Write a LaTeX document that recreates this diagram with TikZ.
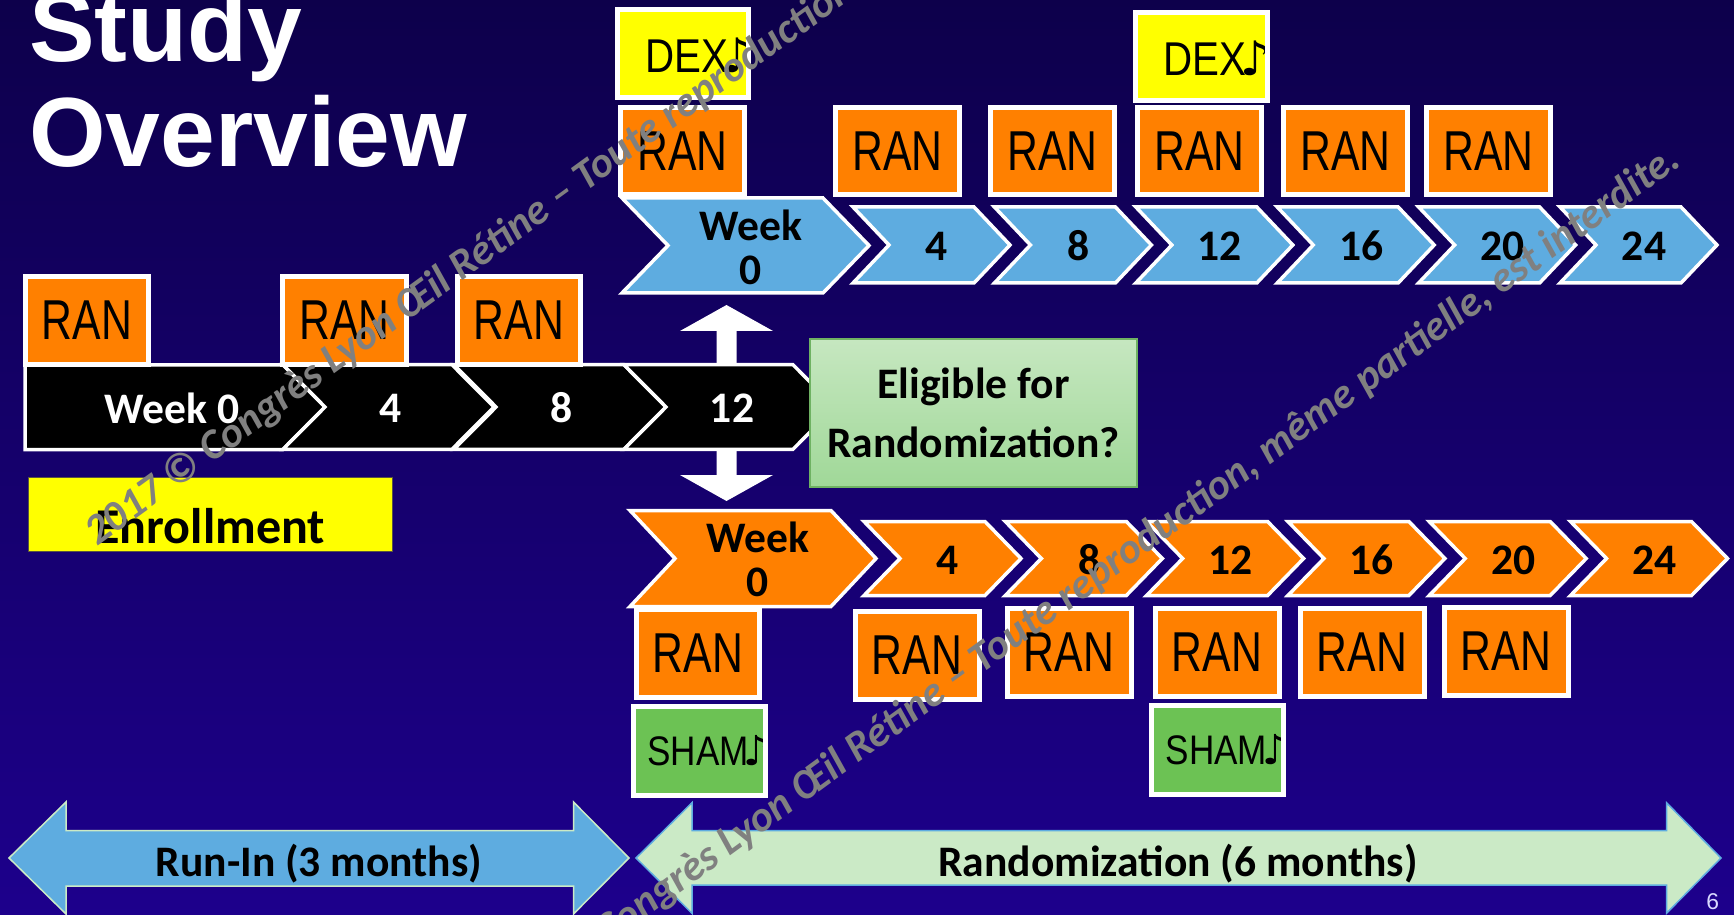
\documentclass[tikz,border=0pt]{standalone}
\usepackage{fontspec}
\setmainfont{Liberation Sans}
\newfontfamily\lblfont{Carlito}
\newfontfamily\notefont{DejaVu Sans}

\definecolor{bgtop}{HTML}{0D004B}
\definecolor{bgmid}{HTML}{110058}
\definecolor{bgbot}{HTML}{1D008C}
\definecolor{ranorange}{HTML}{FF8000}
\definecolor{chevblue}{HTML}{5EACE0}
\definecolor{dexyellow}{HTML}{FFFF00}
\definecolor{shamgreen}{HTML}{6CC254}
\definecolor{eligtop}{HTML}{C6E7C0}
\definecolor{eligbot}{HTML}{A0D898}
\definecolor{eligedge}{HTML}{6FB263}
\definecolor{randfill}{HTML}{CBEAC6}
\definecolor{wmgray}{HTML}{808080}

% chevron: style, left x, middle y, length, height, point depth
\newcommand{\chevronshape}[6]{\filldraw[#1] (#2,#3) ++(0,-#5/2) -- ++(#4-#6,0) -- ++(#6,#5/2) -- ++(-#6,#5/2) -- ++(#6-#4,0) -- ++(#6,-#5/2) -- cycle;}
\newcommand{\rantext}{\scalebox{0.76}[1]{RAN}}
\newcommand{\dextext}{\scalebox{0.85}[1]{DEX}\kern-0.12em{\notefont ♪}}
\newcommand{\shamtext}{\scalebox{0.85}[1]{SHAM}\kern-0.12em{\notefont ♪}}

\tikzset{
	titletext/.style={anchor=base west, inner sep=0pt, text=white, font=\bfseries\fontsize{56}{60}\selectfont},
	lbl/.style={align=center, inner sep=0pt, font=\lblfont\bfseries\fontsize{24.8}{25}\selectfont},
	runlbl/.style={lbl, text=white},
	blackchev/.style={fill=black, draw=white, line width=0.07cm},
	bluechev/.style={fill=chevblue, draw=white, line width=0.07cm},
	orangechev/.style={fill=ranorange, draw=white, line width=0.07cm},
	ranbox/.style={fill=ranorange, draw=white, line width=0.1cm, minimum width=2.48cm, minimum height=1.76cm, inner sep=0pt, font=\fontsize{32}{32}\selectfont},
	dexbox/.style={fill=dexyellow, draw=white, line width=0.1cm, minimum width=2.64cm, minimum height=1.76cm, inner sep=0pt,
		path picture={\node[anchor=west, inner sep=0pt, font=\fontsize{27}{27}\selectfont] at ([xshift=0.27cm, yshift=-0.04cm]path picture bounding box.west) {\dextext};}},
	shambox/.style={fill=shamgreen, draw=white, line width=0.1cm, minimum width=2.64cm, minimum height=1.78cm, inner sep=0pt,
		path picture={\node[anchor=west, inner sep=0pt, font=\fontsize{23.5}{24}\selectfont] at ([xshift=0.14cm]path picture bounding box.west) {\shamtext};}},
	watermark/.style={anchor=base west, rotate=36, inner sep=0pt, text=wmgray, font=\lblfont\bfseries\itshape\fontsize{24.2}{25}\selectfont}
}

\begin{document}
\begin{tikzpicture}[x=0.02cm, y=-0.02cm]

	% Background
	\useasboundingbox (0,0) rectangle (1734,915);
	\clip (0,0) rectangle (1734,915);
	\shade[top color=bgtop, middle color=bgmid, bottom color=bgbot] (0,0) rectangle (1734,915);

	% Title
	\node[titletext] (titleA) at (29,62) {Study};
	\node[titletext] (titleB) at (29,167) {Overview};

	% Up and down arrow
	\fill[white] (726.5,305) -- (773,331) -- (736.5,331) -- (736.5,475) -- (773,475) -- (726.5,501)
		-- (680,475) -- (716.5,475) -- (716.5,331) -- (680,331) -- cycle;

	% Run-in weeks
	\filldraw[blackchev] (25,365) -- (283,365) -- (325,407) -- (283,449.5) -- (25,449.5) -- cycle;
	\chevronshape{blackchev}{283}{407}{211}{84.5}{42}
	\chevronshape{blackchev}{454}{407}{212}{84.5}{42}
	\chevronshape{blackchev}{624}{407}{211}{84.5}{42}
	\node[runlbl] (rw0) at (172,408) {Week 0};
	\node[runlbl] (rw4) at (391,408) {4};
	\node[runlbl] (rw8) at (562,408) {8};
	\node[runlbl] (rw12) at (732,408) {12};

	\node[ranbox] (ranR0) at (87,320.5) {\rantext};
	\node[ranbox] (ranR4) at (344.5,320.5) {\rantext};
	\node[ranbox] (ranR8) at (519,320.5) {\rantext};

	% Enrollment and eligibility
	\node[fill=dexyellow, draw=black!75!yellow, line width=0.02cm, minimum width=7.28cm, inner sep=0pt,
		text height=1.32cm, text depth=0.16cm, anchor=south west, font=\lblfont\bfseries\fontsize{28.5}{29}\selectfont]
		(enroll) at (27.7,552.3) {Enrollment};
	\node[lbl, top color=eligtop, bottom color=eligbot, draw=eligedge, line width=0.03cm,
		minimum width=6.54cm, minimum height=2.96cm, font=\lblfont\bfseries\fontsize{24.8}{34}\selectfont]
		(elig) at (973.5,413) {Eligible for\\Randomization?};

	% Randomized arm with DEX
	\chevronshape{bluechev}{622}{245.5}{247}{95}{46}
	\chevronshape{bluechev}{853}{245}{157}{76}{36}
	\chevronshape{bluechev}{994.4}{245}{157}{76}{36}
	\chevronshape{bluechev}{1135.8}{245}{157}{76}{36}
	\chevronshape{bluechev}{1277.2}{245}{157}{76}{36}
	\chevronshape{bluechev}{1418.6}{245}{157}{76}{36}
	\chevronshape{bluechev}{1560}{245}{157}{76}{36}
	\node[lbl] (tb0) at (751,247) {Week\\0};
	\node[lbl] (tb4) at (937,246) {4};
	\node[lbl] (tb8) at (1078.4,246) {8};
	\node[lbl] (tb12) at (1219.8,246) {12};
	\node[lbl] (tb16) at (1361.2,246) {16};
	\node[lbl] (tb20) at (1502.6,246) {20};
	\node[lbl] (tb24) at (1644,246) {24};

	\node[ranbox] (ranT0) at (682.5,151) {\rantext};
	\node[ranbox] (ranT4) at (897.5,151) {\rantext};
	\node[ranbox] (ranT8) at (1052.5,151) {\rantext};
	\node[ranbox] (ranT12) at (1199.5,151) {\rantext};
	\node[ranbox] (ranT16) at (1345.5,151) {\rantext};
	\node[ranbox] (ranT20) at (1488.5,151) {\rantext};
	\node[dexbox] (dexT0) at (683,53.5) {};
	\node[dexbox] (dexT12) at (1201,56.5) {};

	% Randomized arm with sham
	\chevronshape{orangechev}{630}{558.5}{246}{96}{45}
	\chevronshape{orangechev}{864}{558.5}{157}{74}{36}
	\chevronshape{orangechev}{1005.3}{558.5}{157}{74}{36}
	\chevronshape{orangechev}{1146.6}{558.5}{157}{74}{36}
	\chevronshape{orangechev}{1287.9}{558.5}{157}{74}{36}
	\chevronshape{orangechev}{1429.2}{558.5}{157}{74}{36}
	\chevronshape{orangechev}{1570.5}{558.5}{157}{74}{36}
	\node[lbl] (ob0) at (758,559) {Week\\0};
	\node[lbl] (ob4) at (948,560) {4};
	\node[lbl] (ob8) at (1089.3,560) {8};
	\node[lbl] (ob12) at (1230.6,560) {12};
	\node[lbl] (ob16) at (1371.9,560) {16};
	\node[lbl] (ob20) at (1513.2,560) {20};
	\node[lbl] (ob24) at (1654.5,560) {24};

	\node[ranbox] (ranB0) at (698,653.5) {\rantext};
	\node[ranbox] (ranB4) at (917,655.5) {\rantext};
	\node[ranbox] (ranB8) at (1069,652.5) {\rantext};
	\node[ranbox] (ranB12) at (1217,652.5) {\rantext};
	\node[ranbox] (ranB16) at (1362,652.5) {\rantext};
	\node[ranbox] (ranB20) at (1506,651.5) {\rantext};
	\node[shambox] (shamB0) at (699.4,751) {};
	\node[shambox] (shamB12) at (1217.5,750) {};

	% Study periods
	\filldraw[fill=chevblue, draw=randfill, line width=0.03cm] (9,858) -- (66,802) -- (66,830.5) -- (573.5,830.5) -- (573.5,802)
		-- (629,858) -- (573.5,914) -- (573.5,886) -- (66,886) -- (66,914) -- cycle;
	\filldraw[fill=randfill, draw=chevblue, line width=0.03cm] (636,858) -- (692,802.7) -- (692,830.7) -- (1666.5,830.7) -- (1666.5,802.7)
		-- (1721,858) -- (1666.5,913.3) -- (1666.5,885) -- (692,885) -- (692,913.3) -- cycle;
	\node[lbl] (runin) at (319,864) {Run-In (3 months)};
	\node[lbl] (rand) at (1178,864) {Randomization (6 months)};

	% Page number
	\node[inner sep=0pt, text=white!85!blue, font=\fontsize{13}{13}\selectfont] (pnum) at (1712.7,901.5) {6};

	% Watermark
	\node[watermark] (wmA) at (97,547) {2017 © Congrès Lyon Œil Rétine – Toute reproduction, même partielle, est interdite.};
	\node[watermark] (wmB) at (493,1029) {2017 © Congrès Lyon Œil Rétine – Toute reproduction, même partielle, est interdite.};
\end{tikzpicture}
\end{document}
